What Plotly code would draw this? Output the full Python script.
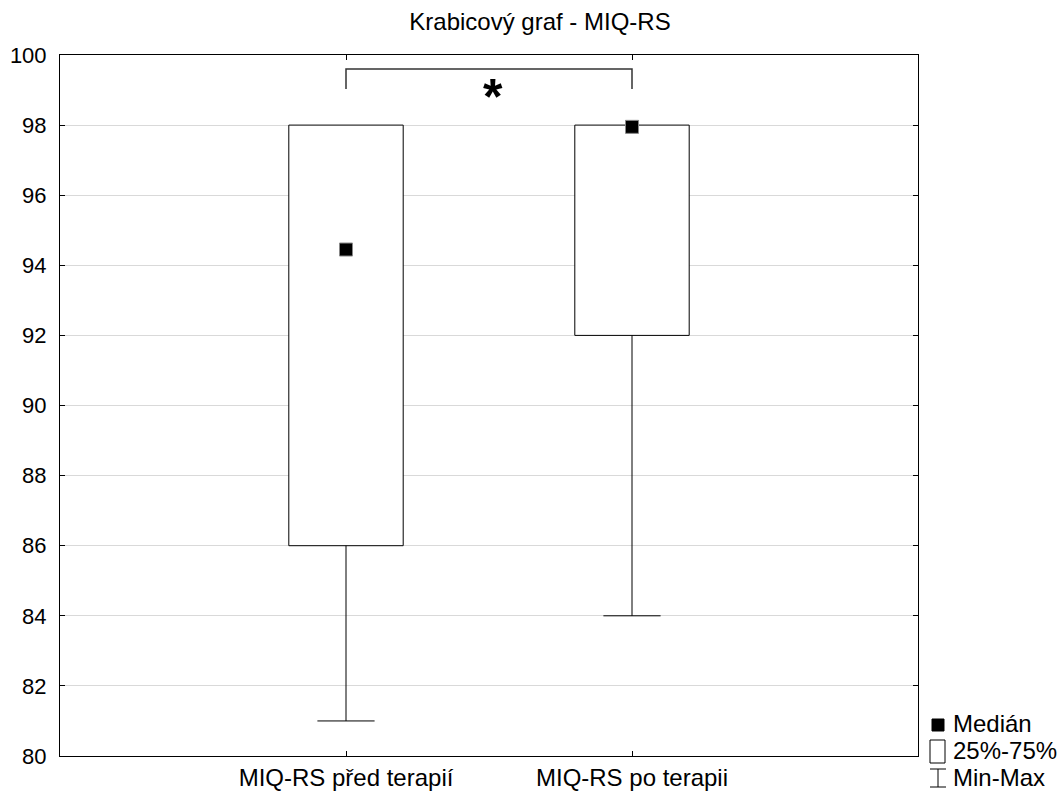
import plotly.graph_objects as go

categories = ["MIQ-RS před terapií", "MIQ-RS po terapii"]
q1 = [86, 92]
q3 = [98, 98]
median = [94.45, 97.95]
vmin = [81, 84]
vmax = [98, 98]
y_ticks = [80, 82, 84, 86, 88, 90, 92, 94, 96, 98, 100]
title = "Krabicový graf - MIQ-RS"
legend_labels = ["Medián", "25%-75%", "Min-Max"]
bracket_y = [99.03, 99.6]

FONT = "Liberation Sans, Arial, sans-serif"
FS = 24
TFS = 22
BOX_W = 0.4
CAP_W = 0.2
xs = list(range(len(categories)))

fig = go.Figure()

# boxes (25%-75%)
fig.add_trace(go.Bar(
    x=xs, y=[b - a for a, b in zip(q1, q3)], base=q1, width=BOX_W,
    marker=dict(color="white", line=dict(color="black", width=1)),
    showlegend=False, hoverinfo="skip"))

# whiskers
for i in xs:
    wx, wy = [], []
    if vmin[i] < q1[i]:
        wx += [i, i, None, i - CAP_W / 2, i + CAP_W / 2, None]
        wy += [q1[i], vmin[i], None, vmin[i], vmin[i], None]
    if vmax[i] > q3[i]:
        wx += [i, i, None, i - CAP_W / 2, i + CAP_W / 2, None]
        wy += [q3[i], vmax[i], None, vmax[i], vmax[i], None]
    if wx:
        fig.add_trace(go.Scatter(x=wx, y=wy, mode="lines",
                                 line=dict(color="black", width=1),
                                 showlegend=False, hoverinfo="skip"))

# medians
fig.add_trace(go.Scatter(
    x=xs, y=median, mode="markers",
    marker=dict(symbol="square", size=13, color="black",
                line=dict(color="#888888", width=1)),
    showlegend=False))

# significance bracket
fig.add_trace(go.Scatter(
    x=[xs[0], xs[0], xs[1], xs[1]],
    y=[bracket_y[0], bracket_y[1], bracket_y[1], bracket_y[0]],
    mode="lines", line=dict(color="#333333", width=1.5),
    showlegend=False, hoverinfo="skip"))
fig.add_annotation(x=(xs[0] + xs[1]) / 2, y=bracket_y[0], text="<b>*</b>",
                   showarrow=False, font=dict(family=FONT, size=50, color="black"),
                   yanchor="middle", yshift=-8, xshift=4)

W, H = 1061, 794
L, T = 60, 55
R = W - 918
B = H - 756
pw, ph = W - L - R, H - T - B

def px(x):
    return (x - L) / pw

def py(y):
    return (H - B - y) / ph

shapes = [
    dict(type="rect", xref="paper", yref="paper",
         x0=px(932), x1=px(944), y0=py(731), y1=py(719),
         fillcolor="black", line=dict(color="black", width=1)),
    dict(type="rect", xref="paper", yref="paper",
         x0=px(930), x1=px(945), y0=py(763), y1=py(740),
         fillcolor="white", line=dict(color="black", width=1)),
    dict(type="line", xref="paper", yref="paper",
         x0=px(938), x1=px(938), y0=py(787), y1=py(769),
         line=dict(color="black", width=1)),
    dict(type="line", xref="paper", yref="paper",
         x0=px(930), x1=px(946), y0=py(769), y1=py(769),
         line=dict(color="black", width=1)),
    dict(type="line", xref="paper", yref="paper",
         x0=px(930), x1=px(946), y0=py(787), y1=py(787),
         line=dict(color="black", width=1)),
]
for lab, yy in zip(legend_labels, [723, 750, 777]):
    fig.add_annotation(xref="paper", yref="paper", x=px(951), y=py(yy),
                       text=lab, showarrow=False, xanchor="left", yanchor="middle",
                       font=dict(family=FONT, size=FS, color="black"))

fig.update_layout(
    width=W, height=H,
    margin=dict(l=L, r=R, t=T, b=B, autoexpand=False),
    paper_bgcolor="white", plot_bgcolor="white",
    title=dict(text=title, x=540 / W, xanchor="center",
               y=1 - 22 / H, yanchor="middle",
               font=dict(family=FONT, size=FS, color="black")),
    font=dict(family=FONT, size=TFS, color="black"),
    shapes=shapes,
    showlegend=False,
)
fig.update_xaxes(
    range=[-1, 2], tickvals=xs, ticktext=categories,
    tickfont=dict(size=FS), automargin=False,
    ticks="inside", ticklen=5, tickcolor="black",
    showline=True, linecolor="black", linewidth=1, mirror="ticks",
    showgrid=False, zeroline=False, fixedrange=True)
fig.update_yaxes(
    range=[80, 100], tickvals=y_ticks, automargin=False,
    ticks="inside", ticklen=5, tickcolor="black",
    showline=True, linecolor="black", linewidth=1, mirror="ticks",
    showgrid=True, gridcolor="#d9d9d9", gridwidth=1, zeroline=False,
    ticklabelstandoff=8, fixedrange=True)

fig.write_html("out.html", config={"displayModeBar": False},
               post_script="document.body.style.margin='0px';document.body.style.overflow='hidden';")
